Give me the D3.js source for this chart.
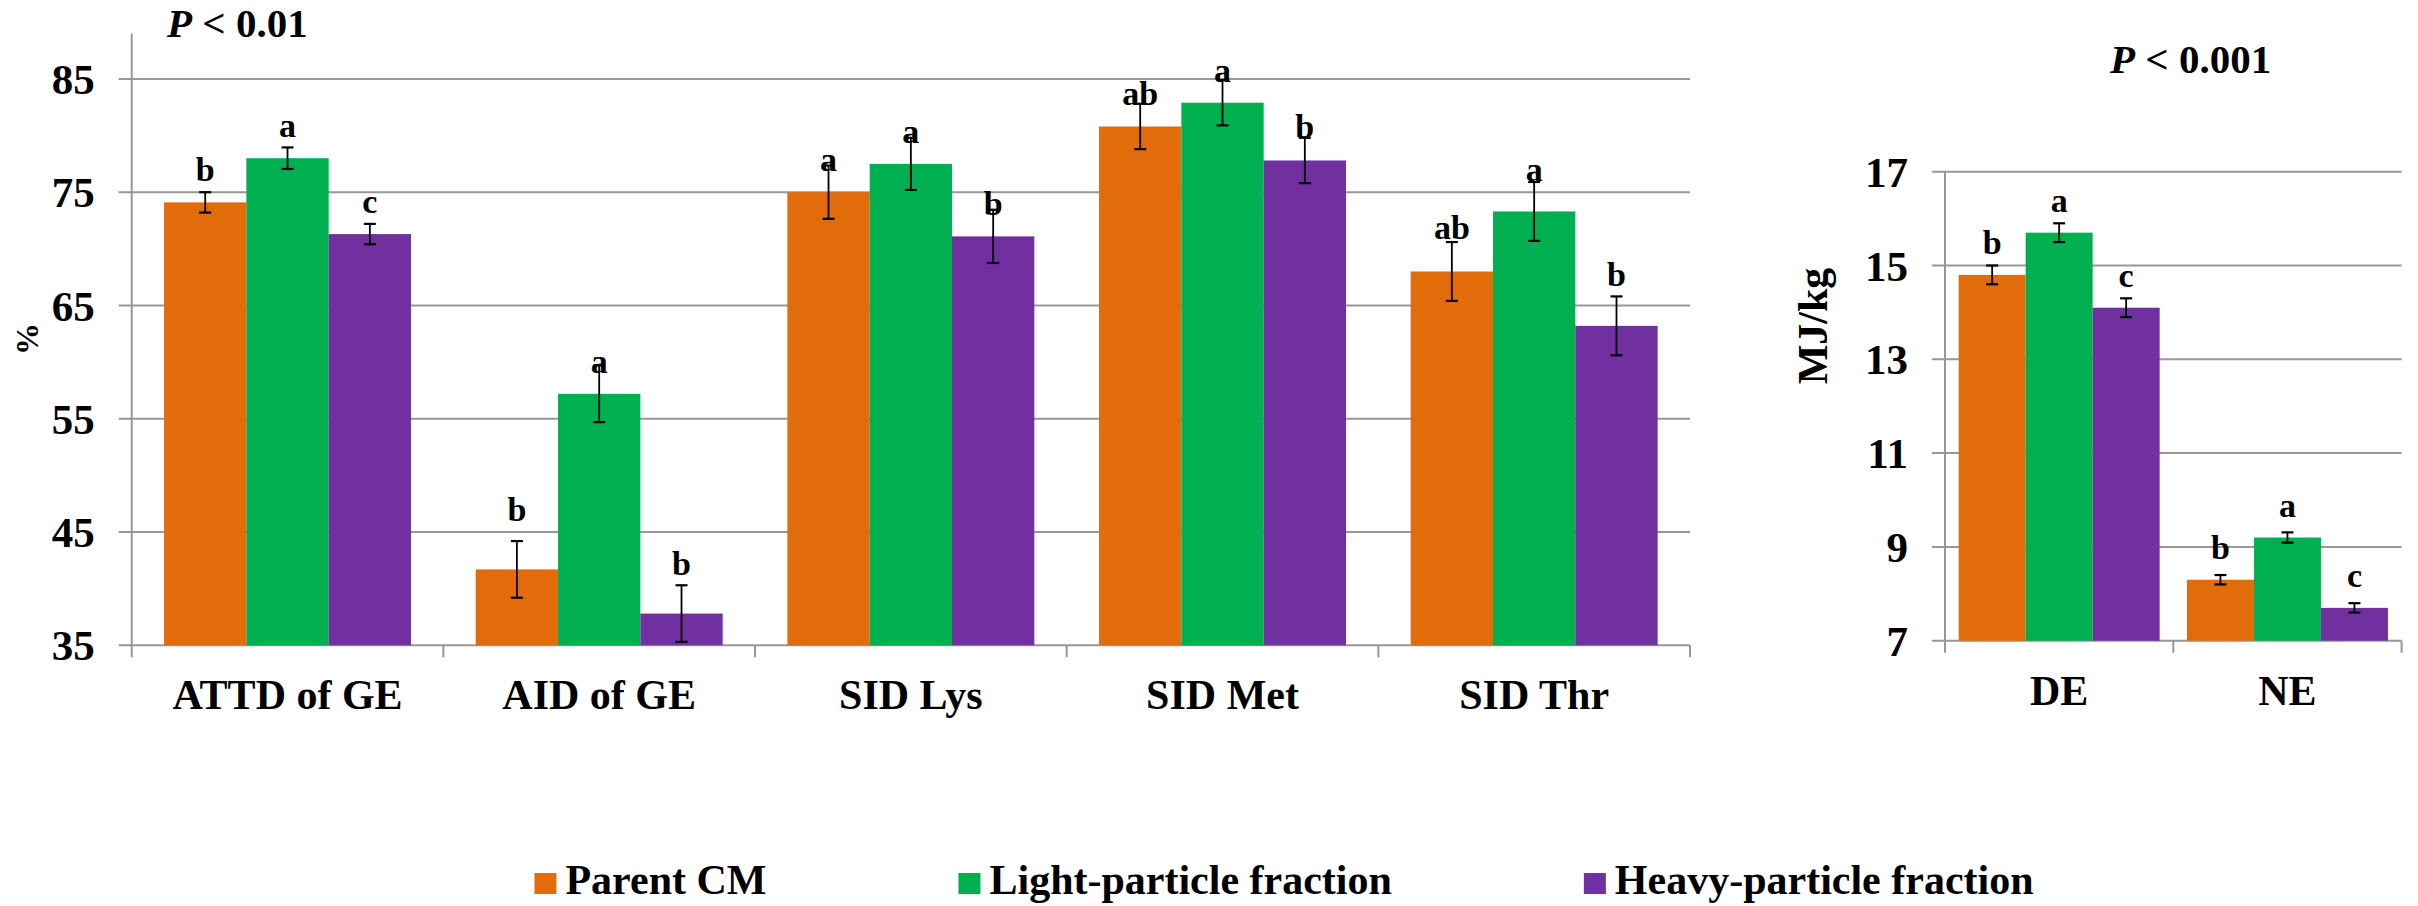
<!DOCTYPE html>
<html>
<head>
<meta charset="utf-8">
<script src="https://cdn.jsdelivr.net/npm/d3@7"></script>
<style>
  html, body { margin: 0; padding: 0; background: #ffffff; }
  svg { display: block; font-family: "Liberation Serif", "Times New Roman", serif; font-weight: bold; }
</style>
</head>
<body>
<svg id="chart" width="2418" height="906"></svg>
<script>
// ---- Digestibility panel (%) ----
const digestCategories = ["ATTD of GE", "AID of GE", "SID Lys", "SID Met", "SID Thr"];
const digestParent = [74.1, 41.7, 75.0, 80.8, 68.0];
const digestLight  = [78.0, 57.2, 77.5, 82.9, 73.3];
const digestHeavy  = [71.3, 37.8, 71.1, 77.8, 63.2];
const digestParentSE = [0.9, 2.5, 2.35, 2.0, 2.6];
const digestLightSE  = [0.95, 2.5, 2.3, 2.0, 2.6];
const digestHeavySE  = [0.9, 2.5, 2.35, 2.0, 2.6];
const digestParentLetters = ["b", "b", "a", "ab", "ab"];
const digestLightLetters  = ["a", "a", "a", "a", "a"];
const digestHeavyLetters  = ["c", "b", "b", "b", "b"];
const digestTicks = [35, 45, 55, 65, 75, 85];

// ---- Energy panel (MJ/kg) ----
const energyCategories = ["DE", "NE"];
const energyParent = [14.8, 8.3];
const energyLight  = [15.7, 9.2];
const energyHeavy  = [14.1, 7.7];
const energyParentSE = [0.2, 0.1];
const energyLightSE  = [0.2, 0.11];
const energyHeavySE  = [0.2, 0.1];
const energyParentLetters = ["b", "b"];
const energyLightLetters  = ["a", "a"];
const energyHeavyLetters  = ["c", "c"];
const energyTicks = [7, 9, 11, 13, 15, 17];

const seriesNames = ["Parent CM", "Light-particle fraction", "Heavy-particle fraction"];
const seriesColors = ["#E36C0A", "#00B050", "#7030A0"];

const svg = d3.select("#chart");
const gridColor = "#979797";

// extra lift (px) for significance letters that sit clear of long error bars
const digestLetterLift = [[0, 0, 0], [27, 0, 18], [0, 0, 0], [0, 0, 1], [11, 9, 19]];
const energyLetterLift = [[0, 0, 0], [0, 0, 0]];

function drawPanel(p) {
  const g = svg.append("g");
  const x0 = d3.scaleBand().domain(p.categories).range([p.left, p.right]).padding(0);
  const x1 = d3.scaleBand().domain(d3.range(3)).range([0, x0.bandwidth()])
    .paddingInner(0).paddingOuter(p.outerPad);
  const y = d3.scaleLinear().domain(p.domain).range([p.bottom, p.top]);

  // gridlines with short left ticks
  g.append("g").selectAll("line").data(p.ticks).join("line")
    .attr("x1", p.left - 13).attr("x2", p.right)
    .attr("y1", d => y(d)).attr("y2", d => y(d))
    .attr("stroke", gridColor).attr("stroke-width", 2);

  // value axis
  g.append("line")
    .attr("x1", p.left).attr("x2", p.left)
    .attr("y1", y(p.domain[1])).attr("y2", y(p.domain[0]) + 12)
    .attr("stroke", gridColor).attr("stroke-width", 2);

  // tick labels
  g.append("g").selectAll("text").data(p.ticks).join("text")
    .attr("x", p.left - 37).attr("y", d => y(d))
    .attr("dy", "0.35em").attr("text-anchor", "end")
    .attr("font-size", 43).text(d => d);

  // category separators below the base line
  const seps = p.categories.map(c => x0(c)).slice(1).concat([p.right]);
  g.append("g").selectAll("line").data(seps).join("line")
    .attr("x1", d => d).attr("x2", d => d)
    .attr("y1", y(p.domain[0])).attr("y2", y(p.domain[0]) + 12)
    .attr("stroke", gridColor).attr("stroke-width", 2);

  // category labels
  g.append("g").selectAll("text").data(p.categories).join("text")
    .attr("x", d => x0(d) + x0.bandwidth() / 2)
    .attr("y", y(p.domain[0]) + 64)
    .attr("text-anchor", "middle").attr("font-size", 42).text(d => d);

  const rows = [];
  p.categories.forEach((c, i) => {
    for (let s = 0; s < 3; s++) {
      rows.push({ c, i, s, v: p.values[s][i], e: p.errors[s][i], letter: p.letters[s][i], lift: p.lift[i][s] });
    }
  });

  // bars
  g.append("g").selectAll("rect").data(rows).join("rect")
    .attr("x", d => x0(d.c) + x1(d.s))
    .attr("width", x1.bandwidth())
    .attr("y", d => y(d.v))
    .attr("height", d => y(p.domain[0]) - y(d.v))
    .attr("fill", d => seriesColors[d.s]);

  // error bars
  const eb = g.append("g").attr("stroke", "#000").attr("stroke-width", 1.8);
  rows.forEach(d => {
    const cx = x0(d.c) + x1(d.s) + x1.bandwidth() / 2;
    const yt = y(d.v + d.e), yb = y(d.v - d.e);
    eb.append("line").attr("x1", cx).attr("x2", cx).attr("y1", yt).attr("y2", yb);
    eb.append("line").attr("x1", cx - 6).attr("x2", cx + 6).attr("y1", yt).attr("y2", yt).attr("stroke-width", 2.2);
    eb.append("line").attr("x1", cx - 6).attr("x2", cx + 6).attr("y1", yb).attr("y2", yb).attr("stroke-width", 2.2);
  });

  // significance letters
  g.append("g").selectAll("text").data(rows).join("text")
    .attr("x", d => x0(d.c) + x1(d.s) + x1.bandwidth() / 2)
    .attr("y", d => y(d.v) - 21 - d.lift)
    .attr("text-anchor", "middle").attr("font-size", 34).text(d => d.letter);

  return { y };
}

drawPanel({
  categories: digestCategories,
  values: [digestParent, digestLight, digestHeavy],
  errors: [digestParentSE, digestLightSE, digestHeavySE],
  letters: [digestParentLetters, digestLightLetters, digestHeavyLetters],
  lift: digestLetterLift,
  ticks: digestTicks, domain: [35, 89],
  left: 131.7, right: 1690, top: 33.6, bottom: 645.3, outerPad: 0.393
});

drawPanel({
  categories: energyCategories,
  values: [energyParent, energyLight, energyHeavy],
  errors: [energyParentSE, energyLightSE, energyHeavySE],
  letters: [energyParentLetters, energyLightLetters, energyHeavyLetters],
  lift: energyLetterLift,
  ticks: energyTicks, domain: [7, 17],
  left: 1945, right: 2401.6, top: 171.7, bottom: 640.7, outerPad: 0.204
});

// axis titles
svg.append("text").attr("transform", "translate(38,339) rotate(-90)")
  .attr("text-anchor", "middle").attr("font-size", 32).text("%");
svg.append("text").attr("transform", "translate(1827,326) rotate(-90)")
  .attr("text-anchor", "middle").attr("font-size", 42).text("MJ/kg");

// P-value notes
function pNote(x, yb, rest) {
  const t = svg.append("text").attr("x", x).attr("y", yb).attr("font-size", 41);
  t.append("tspan").attr("font-style", "italic").text("P");
  t.append("tspan").text(" < " + rest);
}
pNote(167, 37, "0.01");
pNote(2110, 73, "0.001");

// legend, centred under the panels
const legend = svg.append("g");
const items = seriesNames.map((name, i) => {
  const gi = legend.append("g");
  gi.append("rect").attr("width", 22).attr("height", 21).attr("y", -21).attr("fill", seriesColors[i]);
  const t = gi.append("text").attr("x", 31).attr("y", 0).attr("font-size", 42).text(name);
  return { gi, w: 31 + t.node().getComputedTextLength() };
});
const legendGap = 192;
const totalW = d3.sum(items, d => d.w) + legendGap * (items.length - 1);
let lx = 1284 - totalW / 2;
items.forEach(it => {
  it.gi.attr("transform", `translate(${lx},894)`);
  lx += it.w + legendGap;
});
</script>
</body>
</html>
